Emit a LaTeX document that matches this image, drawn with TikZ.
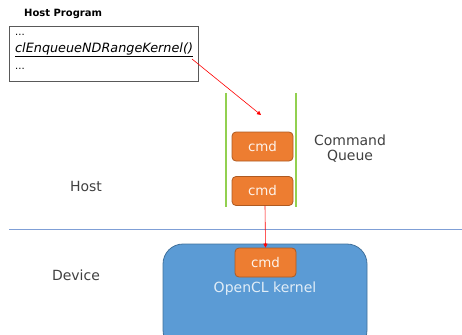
\documentclass[tikz,border=0pt]{standalone}
\usepackage{fontspec}
\setmainfont{DejaVu Sans}
\usetikzlibrary{arrows.meta}
\definecolor{cmdfill}{HTML}{ED7D31}
\definecolor{cmdedge}{HTML}{AE5A21}
\definecolor{kernfill}{HTML}{5B9BD5}
\definecolor{kernedge}{HTML}{41719C}
\definecolor{queueline}{HTML}{92D050}
\definecolor{sepline}{HTML}{7F9FD6}
\definecolor{labeltext}{HTML}{404040}
\tikzset{
  cmdbox/.style={draw=cmdedge, fill=cmdfill, rounded corners=4pt, line width=0.8pt,
    minimum width=61pt, minimum height=29pt, inner sep=0pt,
    text=white!90!cmdfill, font=\fontsize{13.4}{15}\selectfont},
  plain/.style={text=labeltext, font=\fontsize{14}{16}\selectfont, align=center},
  redarrow/.style={draw=red, line width=0.6pt, -{Triangle[length=4pt,width=4pt]}},
}
\begin{document}
\begin{tikzpicture}[x=1pt,y=-1pt]
\useasboundingbox (0,0) rectangle (462,334);
% host program listing
\node[anchor=west, inner sep=0pt, font=\bfseries\fontsize{10}{12}\selectfont] (title) at (24,14) {Host Program};
\draw[draw=gray!70!black, line width=0.8pt] (9,26) rectangle (198,81);
\node[anchor=west, inner sep=0pt, font=\fontsize{10}{12}\selectfont] (dots1) at (15,35) {...};
\node[anchor=west, inner sep=0pt, font=\itshape\fontsize{12.8}{14}\selectfont] (call) at (15,50) {\underline{clEnqueueNDRangeKernel()}};
\node[anchor=west, inner sep=0pt, font=\fontsize{10}{12}\selectfont] (dots2) at (15,69) {...};
\coordinate (callend) at (192,59);
% command queue
\draw[queueline, line width=1.2pt] (226,93) -- (226,207);
\draw[queueline, line width=1.2pt] (296,93) -- (296,207);
\coordinate (qtop) at (261,115);
\node[cmdbox] (c1) at (262.5,146.5) {cmd};
\node[cmdbox] (c2) at (262.5,191) {cmd};
\node[plain] (cq) at (350,149) {Command\\[-1pt]Queue};
\node[plain] (host) at (86,186) {Host};
% host/device separator
\draw[sepline, line width=1pt] (9,229.5) -- (462,229.5);
% device side
\node[plain] (dev) at (76,275) {Device};
\draw[draw=kernedge, fill=kernfill, line width=0.8pt, rounded corners=20pt] (163,244) rectangle (367,350);
\node[cmdbox] (c3) at (265.5,262.5) {cmd};
\node[text=white!82!kernfill, font=\fontsize{14}{16}\selectfont] (kern) at (265,289) {OpenCL kernel};
% connectors
\draw[redarrow] (callend) -- (qtop);
\draw[redarrow] ([xshift=2.5pt]c2.south) -- (c3.north);
\end{tikzpicture}
\end{document}
